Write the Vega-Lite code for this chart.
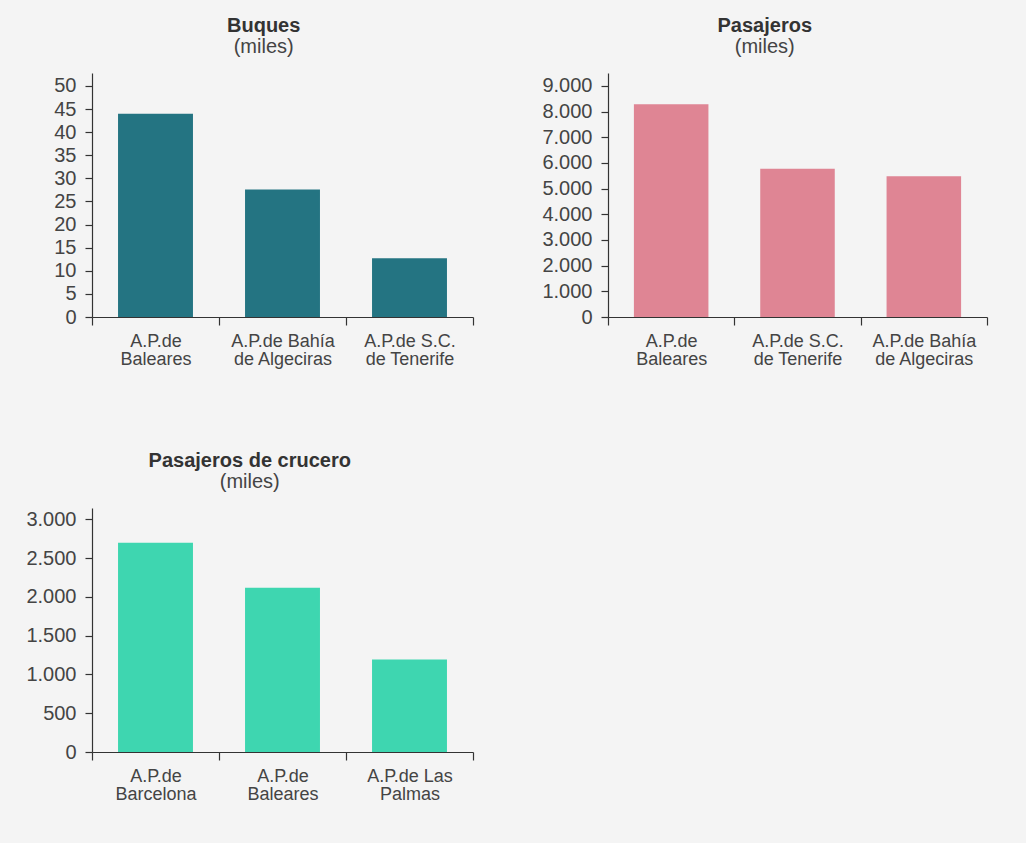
{
  "$schema": "https://vega.github.io/schema/vega-lite/v6.json",
  "background": "#f4f4f4",
  "padding": {"left": 25, "top": 16, "right": 38, "bottom": 40},
  "config": {
    "locale": {"number": {"decimal": ",", "thousands": ".", "grouping": [3], "currency": ["", " €"]}},
    "view": {"stroke": null},
    "font": "Liberation Sans",
    "axis": {
      "domainColor": "#333333", "tickColor": "#333333", "labelColor": "#444444",
      "labelFont": "Liberation Sans", "grid": false, "title": null,
      "domainWidth": 1.2, "tickWidth": 1.2
    },
    "axisX": {"tickBand": "extent", "tickSize": 8, "labelAngle": 0, "labelPadding": 7, "labelLineHeight": 18, "labelFontSize": 18},
    "axisY": {"tickSize": 7, "labelPadding": 9, "labelFontSize": 20},
    "title": {
      "fontSize": 20, "fontWeight": "bold", "color": "#333333",
      "subtitleFontSize": 20, "subtitleColor": "#444444", "subtitleFont": "Liberation Sans",
      "subtitlePadding": 1, "anchor": "middle", "frame": "bounds", "offset": 16
    }
  },
  "spacing": 83,
  "vconcat": [
    {
      "spacing": 67,
      "hconcat": [
        {
          "title": {"text": "Buques", "subtitle": "(miles)"},
          "width": 381, "height": 244,
          "data": {"values": [
            {"puerto": "A.P.de|Baleares", "valor": 44.0},
            {"puerto": "A.P.de Bahía|de Algeciras", "valor": 27.6},
            {"puerto": "A.P.de S.C.|de Tenerife", "valor": 12.7}
          ]},
          "mark": {"type": "bar", "color": "#247482", "width": {"band": 0.59}},
          "encoding": {
            "x": {"field": "puerto", "type": "nominal", "sort": null,
                  "scale": {"paddingInner": 0, "paddingOuter": 0},
                  "axis": {"labelExpr": "split(datum.label, '|')"}},
            "y": {"field": "valor", "type": "quantitative",
                  "scale": {"domain": [0, 52.8], "nice": false},
                  "axis": {"values": [0, 5, 10, 15, 20, 25, 30, 35, 40, 45, 50]}}
          }
        },
        {
          "title": {"text": "Pasajeros", "subtitle": "(miles)"},
          "width": 379, "height": 244,
          "data": {"values": [
            {"puerto": "A.P.de|Baleares", "valor": 8285},
            {"puerto": "A.P.de S.C.|de Tenerife", "valor": 5778},
            {"puerto": "A.P.de Bahía|de Algeciras", "valor": 5480}
          ]},
          "mark": {"type": "bar", "color": "#df8594", "width": {"band": 0.59}},
          "encoding": {
            "x": {"field": "puerto", "type": "nominal", "sort": null,
                  "scale": {"paddingInner": 0, "paddingOuter": 0},
                  "axis": {"labelExpr": "split(datum.label, '|')"}},
            "y": {"field": "valor", "type": "quantitative",
                  "scale": {"domain": [0, 9506], "nice": false},
                  "axis": {"values": [0, 1000, 2000, 3000, 4000, 5000, 6000, 7000, 8000, 9000], "format": ",.0f"}}
          }
        }
      ]
    },
    {
      "title": {"text": "Pasajeros de crucero", "subtitle": "(miles)"},
      "width": 381, "height": 244,
      "data": {"values": [
        {"puerto": "A.P.de|Barcelona", "valor": 2698},
        {"puerto": "A.P.de|Baleares", "valor": 2117},
        {"puerto": "A.P.de Las|Palmas", "valor": 1193}
      ]},
      "mark": {"type": "bar", "color": "#3ed6b0", "width": {"band": 0.59}},
      "encoding": {
        "x": {"field": "puerto", "type": "nominal", "sort": null,
              "scale": {"paddingInner": 0, "paddingOuter": 0},
              "axis": {"labelExpr": "split(datum.label, '|')"}},
        "y": {"field": "valor", "type": "quantitative",
              "scale": {"domain": [0, 3146], "nice": false},
              "axis": {"values": [0, 500, 1000, 1500, 2000, 2500, 3000], "format": ",.0f"}}
      }
    }
  ]
}
